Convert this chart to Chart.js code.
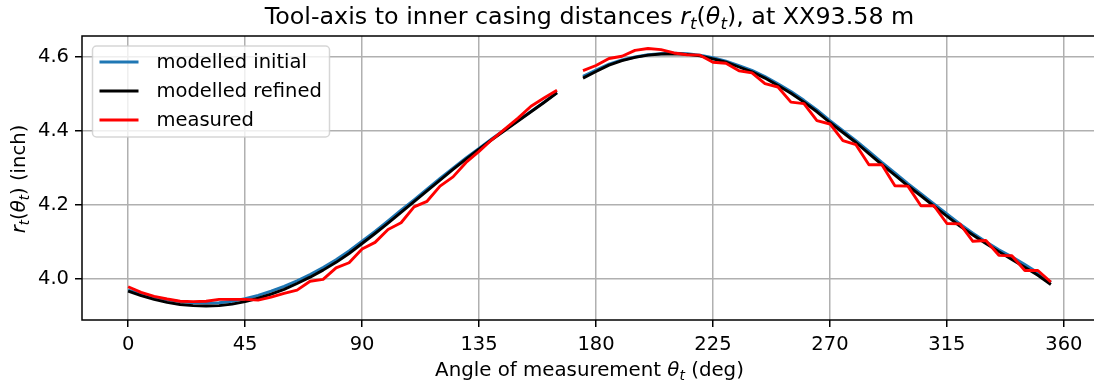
<!DOCTYPE html>
<html lang="en">
<head>
<meta charset="UTF-8">
<title>Tool-axis to inner casing distances</title>
<script src="https://cdn.jsdelivr.net/npm/chart.js"></script>
<style>
  html, body { margin: 0; padding: 0; background: #fff; overflow: hidden; }
  #wrap { width: 1100px; height: 387px; }
</style>
</head>
<body>
<div id="wrap"><canvas id="distChart" width="1100" height="387"></canvas></div>
<script>
// angle of measurement (deg); 170 has no value
const angles = [0, 5, 10, 15, 20, 25, 30, 35, 40, 45, 50, 55, 60, 65, 70, 75, 80, 85, 90, 95,
  100, 105, 110, 115, 120, 125, 130, 135, 140, 145, 150, 155, 160, 165, 170, 175, 180, 185, 190, 195,
  200, 205, 210, 215, 220, 225, 230, 235, 240, 245, 250, 255, 260, 265, 270, 275, 280, 285, 290, 295,
  300, 305, 310, 315, 320, 325, 330, 335, 340, 345, 350, 355];

const modelledInitial = [3.970, 3.960, 3.951, 3.944, 3.939, 3.936, 3.935, 3.936, 3.940, 3.947,
  3.956, 3.967, 3.980, 3.995, 4.012, 4.031, 4.052, 4.076, 4.102, 4.129,
  4.157, 4.186, 4.214, 4.243, 4.272, 4.300, 4.327, 4.353, 4.379, 4.404,
  4.428, 4.453, 4.478, 4.504, null, 4.548, 4.565, 4.581, 4.592, 4.600,
  4.606, 4.609, 4.610, 4.609, 4.605, 4.598, 4.589, 4.577, 4.564, 4.547,
  4.528, 4.507, 4.483, 4.457, 4.428, 4.401, 4.374, 4.345, 4.315, 4.287,
  4.258, 4.231, 4.203, 4.176, 4.149, 4.124, 4.101, 4.079, 4.060, 4.039,
  4.017, 3.991];

const modelledRefined = [3.967, 3.955, 3.945, 3.937, 3.931, 3.928, 3.927, 3.928, 3.932, 3.939,
  3.948, 3.959, 3.972, 3.988, 4.005, 4.024, 4.045, 4.069, 4.096, 4.123,
  4.151, 4.180, 4.209, 4.238, 4.267, 4.296, 4.324, 4.351, 4.377, 4.402,
  4.427, 4.452, 4.477, 4.503, null, 4.543, 4.561, 4.578, 4.590, 4.599,
  4.605, 4.608, 4.609, 4.607, 4.603, 4.595, 4.586, 4.573, 4.560, 4.543,
  4.523, 4.502, 4.478, 4.452, 4.423, 4.396, 4.369, 4.339, 4.309, 4.281,
  4.252, 4.225, 4.197, 4.170, 4.143, 4.119, 4.096, 4.074, 4.053, 4.032,
  4.010, 3.985];

const measured = [3.979, 3.964, 3.953, 3.946, 3.940, 3.939, 3.940, 3.945, 3.945, 3.945,
  3.943, 3.951, 3.961, 3.970, 3.994, 3.999, 4.030, 4.044, 4.081, 4.099,
  4.134, 4.152, 4.195, 4.210, 4.251, 4.276, 4.315, 4.345, 4.377, 4.406,
  4.435, 4.467, 4.489, 4.510, null, 4.563, 4.577, 4.596, 4.602, 4.618,
  4.623, 4.620, 4.611, 4.606, 4.605, 4.586, 4.583, 4.563, 4.557, 4.528,
  4.519, 4.478, 4.474, 4.428, 4.419, 4.374, 4.363, 4.309, 4.309, 4.252,
  4.251, 4.198, 4.198, 4.150, 4.149, 4.102, 4.104, 4.064, 4.063, 4.023,
  4.023, 3.992];

const xTicks = [0, 45, 90, 135, 180, 225, 270, 315, 360];
const yTicks = [4.0, 4.2, 4.4, 4.6];

const FONT = "'DejaVu Sans', 'Liberation Sans', sans-serif";
const FS = 19.5;

function pts(vals) {
  return angles.map((a, i) => ({ x: a, y: vals[i] }));
}

// text made of plain / italic / italic subscript pieces
function fontFor(s, size) {
  if (s === 'i') return 'italic ' + size + 'px ' + FONT;
  if (s === 's') return 'italic ' + (size * 0.7).toFixed(1) + 'px ' + FONT;
  return size + 'px ' + FONT;
}
function richWidth(ctx, segs, size) {
  let w = 0;
  segs.forEach(([t, s]) => {
    ctx.font = fontFor(s, size);
    w += ctx.measureText(t).width;
  });
  return w;
}
function drawRich(ctx, segs, cx, y, size) {
  let x = cx - richWidth(ctx, segs, size) / 2;
  ctx.textAlign = 'left';
  ctx.textBaseline = 'alphabetic';
  segs.forEach(([t, s]) => {
    ctx.font = fontFor(s, size);
    ctx.fillText(t, x, s === 's' ? y + size * 0.22 : y);
    x += ctx.measureText(t).width;
  });
}

const titleSegs = [['Tool-axis to inner casing distances ', 'n'], ['r', 'i'], ['t', 's'], ['(', 'n'],
  ['θ', 'i'], ['t', 's'], ['), at XX93.58 m', 'n']];
const xLabelSegs = [['Angle of measurement ', 'n'], ['θ', 'i'], ['t', 's'], [' (deg)', 'n']];
const yLabelSegs = [['r', 'i'], ['t', 's'], ['(', 'n'], ['θ', 'i'], ['t', 's'], [') (inch)', 'n']];

const decorations = {
  id: 'decorations',
  afterDatasetsDraw(chart) {
    const ctx = chart.ctx;
    const a = chart.chartArea;
    ctx.save();
    // frame
    ctx.strokeStyle = '#000';
    ctx.lineWidth = 1.5;
    ctx.strokeRect(a.left, a.top, a.right - a.left, a.bottom - a.top);

    // legend
    const lx = a.left + 10.5, ly = a.top + 10, lw = 237, lh = 91;
    ctx.beginPath();
    ctx.roundRect(lx, ly, lw, lh, 4);
    ctx.fillStyle = 'rgba(255,255,255,0.8)';
    ctx.fill();
    ctx.strokeStyle = 'rgba(204,204,204,0.8)';
    ctx.lineWidth = 1.5;
    ctx.stroke();
    chart.data.datasets.forEach((ds, k) => {
      const yy = ly + 16 + k * 29;
      ctx.strokeStyle = ds.borderColor;
      ctx.lineWidth = 2.9;
      ctx.beginPath();
      ctx.moveTo(lx + 7, yy);
      ctx.lineTo(lx + 46, yy);
      ctx.stroke();
      ctx.fillStyle = '#000';
      ctx.font = FS + 'px ' + FONT;
      ctx.textAlign = 'left';
      ctx.textBaseline = 'middle';
      ctx.fillText(ds.label, lx + 64, yy + 1);
    });

    // titles
    ctx.fillStyle = '#000';
    const cx = (a.left + a.right) / 2;
    drawRich(ctx, titleSegs, cx, 24, 23.8);
    drawRich(ctx, xLabelSegs, cx, 376, 19.8);
    ctx.translate(25, (a.top + a.bottom) / 2 + 1);
    ctx.rotate(-Math.PI / 2);
    drawRich(ctx, yLabelSegs, 0, 0, 19.6);
    ctx.restore();
  }
};

const ctx = document.getElementById('distChart').getContext('2d');
new Chart(ctx, {
  type: 'line',
  data: {
    datasets: [
      { label: 'modelled initial', data: pts(modelledInitial), borderColor: '#1f77b4', order: 3 },
      { label: 'modelled refined', data: pts(modelledRefined), borderColor: '#000000', order: 2 },
      { label: 'measured', data: pts(measured), borderColor: '#ff0000', order: 1 }
    ]
  },
  options: {
    responsive: false,
    animation: false,
    spanGaps: false,
    layout: { padding: { left: 0, right: 3, top: 36, bottom: 0 } },
    elements: {
      line: { borderWidth: 2.9, tension: 0, fill: false, borderCapStyle: 'butt', borderJoinStyle: 'round' },
      point: { radius: 0, hoverRadius: 0 }
    },
    plugins: { legend: { display: false }, title: { display: false }, tooltip: { enabled: false } },
    scales: {
      x: {
        type: 'linear',
        min: -17.75,
        max: 372.75,
        afterBuildTicks: s => { s.ticks = xTicks.map(v => ({ value: v })); },
        afterFit: s => { s.height = 67; },
        grid: { color: '#b0b0b0', lineWidth: 1.5, tickLength: 7, tickColor: '#000', tickWidth: 1.5 },
        border: { display: false },
        ticks: { color: '#000', font: { family: FONT, size: FS }, padding: 6, maxRotation: 0, autoSkip: false }
      },
      y: {
        type: 'linear',
        min: 3.8892,
        max: 4.6568,
        afterBuildTicks: s => { s.ticks = yTicks.map(v => ({ value: v })); },
        afterFit: s => { s.width = 82; },
        grid: { color: '#b0b0b0', lineWidth: 1.5, tickLength: 7, tickColor: '#000', tickWidth: 1.5 },
        border: { display: false },
        ticks: { color: '#000', font: { family: FONT, size: FS }, padding: 6,
          callback: v => v.toFixed(1) }
      }
    }
  },
  plugins: [decorations]
});
</script>
</body>
</html>
